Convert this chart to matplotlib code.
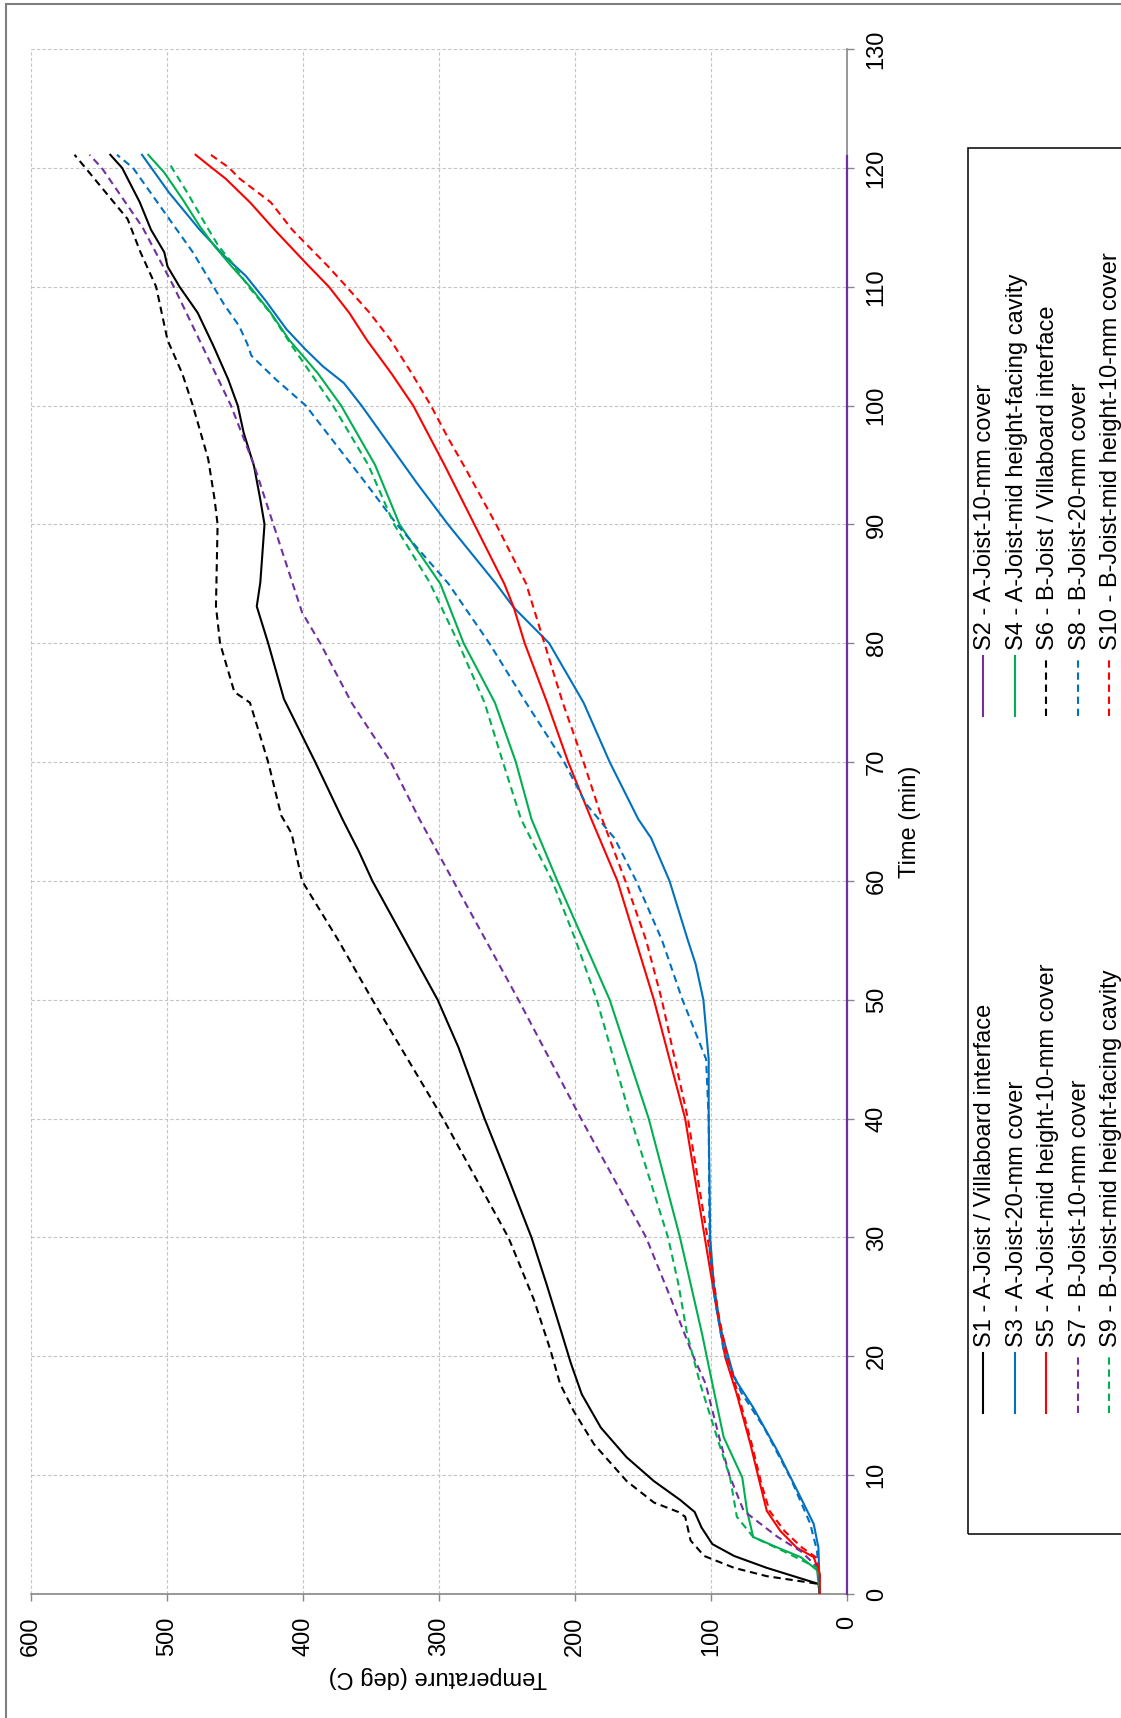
import matplotlib
matplotlib.use('Agg')
import matplotlib.pyplot as plt
from matplotlib.lines import Line2D
from matplotlib.patches import Rectangle

# page is drawn turned on its side: temperature runs right->left along the bottom,
# time runs bottom->top along the right edge

# ---- data (time in min, temperature in deg C) ----
s1_time = [0, 0.85, 2.2, 3.2, 4.2, 5.6, 6.9, 7.9, 9.5, 11.5, 14, 16.8, 19.4, 22.4, 26.1, 30, 35, 40, 46, 50,
           55, 60, 62.5, 65.2, 70, 75.3, 80, 83.1, 85.1, 90, 92.1, 94.9, 97.7, 100, 102.2, 105, 107.8, 110, 111.7, 112.9,
           114.8, 117.1, 120, 121.1]
s1_temp = [20, 21, 59, 83, 99, 107, 112, 122.5, 142, 162, 181, 195, 203, 211, 221, 232, 249, 266.5, 285.7, 301,
           325, 349, 359, 371, 391, 414, 425.6, 434, 431.4, 428.3, 431.4, 436, 443.6, 448, 455, 465.8, 477.4, 490.8, 499.6, 502,
           511.8, 520, 533, 541.7]

s2_time = [0, 121]
s2_temp = [0, 0]

s3_time = [0, 3.9, 5.9, 8.1, 12, 15.7, 18.2, 22.4, 26.1, 30, 40, 45, 50, 53, 55, 60, 63.6, 65.2, 70, 75,
           80, 83, 85, 90, 93.5, 100, 101.9, 103.3, 104.7, 106.4, 108.9, 110.9, 112.6, 114.8, 117.9, 121.1]
s3_temp = [20, 21, 24.5, 34, 51, 69, 83, 93, 98, 100.6, 101.7, 101.7, 105.6, 111.3, 117, 130.5, 144, 153.5, 174.5, 193.7,
           219, 245, 258, 293.4, 316.4, 357, 370, 385.4, 398, 412, 428, 442, 458, 476, 498.4, 518.4]

s4_time = [0, 2, 3.1, 3.9, 4.8, 7, 9.8, 13.2, 17.7, 21.9, 26.1, 30, 40, 50, 60, 65.2, 70, 75, 80, 85,
           90, 95, 100, 102.7, 105.5, 107.8, 110, 111.7, 113.4, 115.1, 117.4, 119.6, 121.1]
s4_temp = [20, 22, 34, 51, 69, 73.5, 77, 90.7, 99, 106.6, 115, 122.8, 145.8, 174.5, 213, 232, 243.5, 258.9, 281.9, 299,
           329, 347, 372, 389, 410, 423.7, 439, 452.4, 465, 476, 488.8, 502, 513.8]

s5_time = [0, 1.7, 3.1, 3.9, 5.3, 7, 9.3, 12.6, 16.8, 19.9, 23.8, 28.9, 40, 50, 55, 60, 65.2, 70, 75, 80,
           83, 85, 90, 95, 100, 102.7, 105.5, 107.8, 110, 112, 114.8, 117.1, 119.1, 120, 121.1]
s5_temp = [20, 20, 24.5, 37, 49, 59, 64, 71, 81, 89.5, 95.6, 103, 119, 142, 155.4, 168.8, 188, 205, 220.5, 237,
           245, 252, 274, 296, 319, 335, 353, 366, 381, 398, 421, 439, 457, 467, 479]

s6_time = [0, 0.85, 1.5, 2.2, 3.2, 4.5, 6.5, 6.9, 7.7, 9.5, 12.6, 15.4, 17.7, 20.5, 24.7, 28.9, 30, 40, 50, 55,
           60, 64, 65.5, 70, 75, 75.9, 80, 83.1, 90, 92.1, 95.5, 100, 102.7, 105.5, 110, 112.9, 115.7, 120, 121.1]
s6_temp = [20, 21, 59, 83, 105, 115, 119, 124, 142, 162, 186, 201, 211, 218, 230, 245, 249, 297, 349, 374,
           400.7, 408.4, 416, 425.6, 439, 450.5, 461, 464, 462.8, 465, 469.7, 481, 488.8, 499.6, 508, 519.5, 529, 560, 568]

s7_time = [0, 1.5, 2.4, 3.6, 4.8, 7, 10, 13.2, 17.7, 20, 25, 30, 40, 50, 60, 65.2, 70, 75, 80, 82.6,
           90, 95, 100, 105, 110, 115, 120, 121.1]
s7_temp = [20, 20, 23, 34, 51, 76, 86.5, 94, 104, 113, 130, 147.7, 195.6, 241.6, 289.5, 314.4, 335.5, 364.3, 387.3, 400.7,
           421.8, 436, 453, 474, 495, 518, 548, 557]

s8_time = [0, 3.6, 5.9, 9.8, 14, 17, 20.5, 24.7, 28.9, 40, 45, 50, 55, 60, 63.6, 66.5, 70, 75, 80, 85,
           90, 93.5, 100, 102.2, 104.2, 105.2, 106.7, 108.5, 110, 112.9, 115.7, 120, 121.1]
s8_temp = [20, 22, 27, 41.7, 61, 78, 90.7, 97, 101, 101.7, 103.6, 121, 136, 155, 171, 192, 208, 236, 263, 293,
           331, 354, 398, 420, 438, 441, 447, 458, 465.8, 481, 498.4, 525, 536.8]

s9_time = [0, 1.5, 2.2, 3.6, 4.8, 6.5, 9.8, 13.2, 17.7, 21.9, 26.1, 30, 40, 50, 55, 60, 65.2, 70, 75, 80,
           85.1, 90, 95, 100, 102.5, 105, 107.8, 110, 112, 113.4, 115.1, 117.9, 120.5]
s9_temp = [20, 20, 22, 46.6, 69, 81, 86, 95.6, 108, 117.6, 124, 131.6, 159, 184, 199.5, 216.7, 239.7, 253, 266.5, 285.7,
           306.8, 333, 352, 378, 393, 408, 424, 440, 452, 462, 471, 485, 499]

s10_time = [0, 1.7, 3.1, 3.9, 5.3, 7, 9.3, 12.6, 16.8, 19.9, 23.8, 28.9, 40, 50, 55, 60, 65.2, 70, 75, 80,
            85, 90, 95, 97.2, 100, 102.7, 105.5, 107.8, 110, 111.7, 114.8, 117.1, 119.1, 120, 121.1]
s10_temp = [20, 20, 23, 33, 46, 57, 63, 70, 80, 88, 95, 101, 117, 136.2, 147.7, 163, 180, 193.7, 209, 222.5,
            235.9, 258, 282, 293, 306, 320, 335.5, 351, 368, 381.5, 408, 423.7, 446.7, 454.3, 467.8]

labels = ['S1 - A-Joist / Villaboard interface', 'S2 - A-Joist-10-mm cover',
          'S3 - A-Joist-20-mm cover', 'S4 - A-Joist-mid height-facing cavity',
          'S5 - A-Joist-mid height-10-mm cover', 'S6 - B-Joist / Villaboard interface',
          'S7 - B-Joist-10-mm cover', 'S8 - B-Joist-20-mm cover',
          'S9 - B-Joist-mid height-facing cavity', 'S10 - B-Joist-mid height-10-mm cover']

temp_ticks = [0, 100, 200, 300, 400, 500, 600]
time_ticks = list(range(0, 131, 10))

BLACK, BLUE, RED, GREEN, PURPLE = '#000000', '#0070C0', '#FF0000', '#00B050', '#7030A0'
DASH = (0, (3.5, 2.3))

series = [
    (s1_time, s1_temp, BLACK, '-'),
    (s2_time, s2_temp, PURPLE, '-'),
    (s3_time, s3_temp, BLUE, '-'),
    (s4_time, s4_temp, GREEN, '-'),
    (s5_time, s5_temp, RED, '-'),
    (s6_time, s6_temp, BLACK, DASH),
    (s7_time, s7_temp, PURPLE, DASH),
    (s8_time, s8_temp, BLUE, DASH),
    (s9_time, s9_temp, GREEN, DASH),
    (s10_time, s10_temp, RED, DASH),
]

W, H = 1121, 1718
plt.rcParams['font.family'] = ['Liberation Sans', 'DejaVu Sans']
FS = 17

def fx(px):
    return px / W

def fy(py):
    return 1 - py / H

fig = plt.figure(figsize=(W / 100, H / 100), dpi=100)
ax = fig.add_axes([fx(31), fy(1594), (847 - 31) / W, (1594 - 49) / H])

for i, (t, temp, col, ls) in enumerate(series):
    if i == 1:
        # S2 sits right on the 0 deg axis line
        ax.plot(temp, t, color=col, lw=1.6, clip_on=False, zorder=5)
    else:
        ax.plot(temp, t, color=col, lw=1.5, linestyle=ls, zorder=3)

ax.set_xlim(600, 0)
ax.set_ylim(0, 130)
ax.set_xticks(temp_ticks)
ax.set_xticklabels([str(v) for v in temp_ticks], rotation=90)
ax.yaxis.tick_right()
ax.set_yticks(time_ticks)
ax.set_yticklabels([str(v) for v in time_ticks], rotation=90, va='center')
ax.tick_params(axis='x', length=5, width=1, color='#868686', pad=11, labelsize=FS)
ax.tick_params(axis='y', length=5, width=1, color='#868686', pad=8.5, labelsize=FS)

ax.grid(True, color='#C4C4C4', lw=0.8, ls=(0, (3, 2)))
ax.set_axisbelow(True)
for side in ['top', 'left']:
    ax.spines[side].set_visible(False)
for side in ['bottom', 'right']:
    ax.spines[side].set_color('#868686')
    ax.spines[side].set_linewidth(1.2)

fig.text(fx(910), fy(822), 'Time (min)', rotation=90, ha='center', va='center', fontsize=FS)
fig.text(fx(438), fy(1677), 'Temperature (deg C)', rotation=180, ha='center', va='center', fontsize=FS)

# outer chart border (only the left and top edges show)
fig.add_artist(Rectangle((fx(6), fy(1800)), fx(1200), (1800 - 4) / H, transform=fig.transFigure,
                         fill=False, ec='#7F7F7F', lw=1.5))

# legend box, cut off at the right edge like the source
fig.add_artist(Rectangle((fx(968), fy(1534)), fx(200), (1534 - 148) / H, transform=fig.transFigure,
                         fill=False, ec='black', lw=1.1))

col_x = [983, 1014.5, 1046, 1077.5, 1109]
for i, (t, temp, col, ls) in enumerate(series):
    row = i // 2
    if i % 2 == 0:
        h_top, h_bot, txt_y = 1353, 1413, 1347
    else:
        h_top, h_bot, txt_y = 656, 716, 650
    x = col_x[row]
    fig.add_artist(Line2D([fx(x), fx(x)], [fy(h_bot), fy(h_top)], transform=fig.transFigure,
                          color=col, lw=1.5, linestyle=ls))
    fig.text(fx(x + 2.3), fy(txt_y), labels[i], rotation=90, ha='center', va='bottom', fontsize=FS)

fig.savefig('out.png', dpi=100)
